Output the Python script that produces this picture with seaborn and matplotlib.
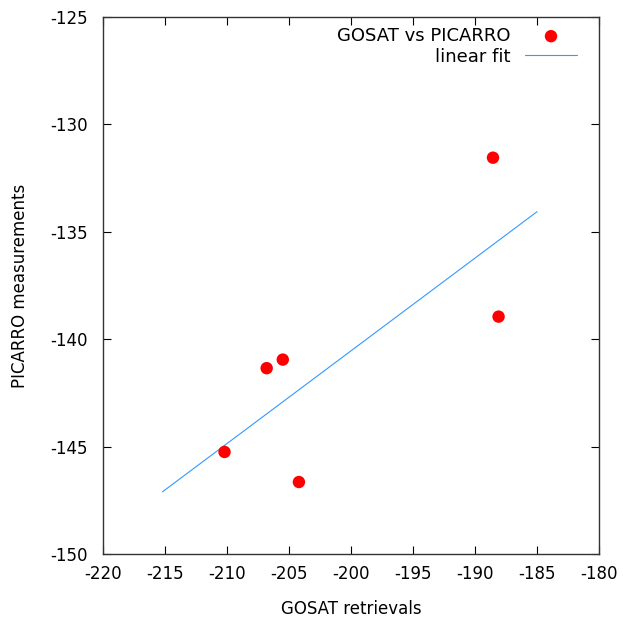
import matplotlib

matplotlib.use("Agg")
import matplotlib.pyplot as plt
import numpy as np
import pandas as pd
import seaborn as sns

# GOSAT retrievals vs PICARRO measurements
gosat = [-210.2, -206.8, -205.5, -204.2, -188.55, -188.1]
picarro = [-145.25, -141.35, -140.95, -146.65, -131.55, -138.95]
fit_range = [-215.2, -185.0]

xticks = list(range(-220, -179, 5))
yticks = list(range(-150, -124, 5))

sns.set_style("ticks")
plt.rcParams["font.family"] = ["DejaVu Sans"]
plt.rcParams["axes.unicode_minus"] = False
plt.rcParams["text.color"] = "black"
plt.rcParams["axes.labelcolor"] = "black"

df = pd.DataFrame({"x": gosat, "y": picarro})
slope, intercept = np.polyfit(gosat, picarro, 1)
fit_x = np.linspace(fit_range[0], fit_range[1], 50)
fit = pd.DataFrame({"x": fit_x, "y": slope * fit_x + intercept})

fig = plt.figure(figsize=(6.23, 6.18), dpi=100)
ax = fig.add_axes([0.1653, 0.1036, 0.7962, 0.8689])

sns.scatterplot(data=df, x="x", y="y", ax=ax, color="#ff0000", s=80,
                edgecolor="none", label="GOSAT vs PICARRO", zorder=3)
sns.lineplot(data=fit, x="x", y="y", ax=ax, color="#3399ff", linewidth=0.8,
             label="linear fit")

ax.set_xlim(-220, -180)
ax.set_ylim(-150, -125)
ax.set_xticks(xticks)
ax.set_yticks(yticks)
ax.tick_params(direction="in", length=6, width=0.8, top=True, right=True,
               labelsize=12, colors="#000000", pad=8)
ax.tick_params(axis="y", pad=11)
for sp in ax.spines.values():
    sp.set_color("#333333")
    sp.set_linewidth(1.0)

ax.set_xlabel("GOSAT retrievals", fontsize=12, labelpad=12)
ax.set_ylabel("PICARRO measurements", fontsize=12, labelpad=15)

ax.legend(loc="upper right", bbox_to_anchor=(0.976, 1.0), frameon=False,
          markerfirst=False, fontsize=13, handlelength=2.9,
          borderaxespad=0.15, borderpad=0.4, labelspacing=0.15,
          handletextpad=0.78)

fig.savefig("out.png", dpi=100, facecolor="white")
plt.close(fig)
